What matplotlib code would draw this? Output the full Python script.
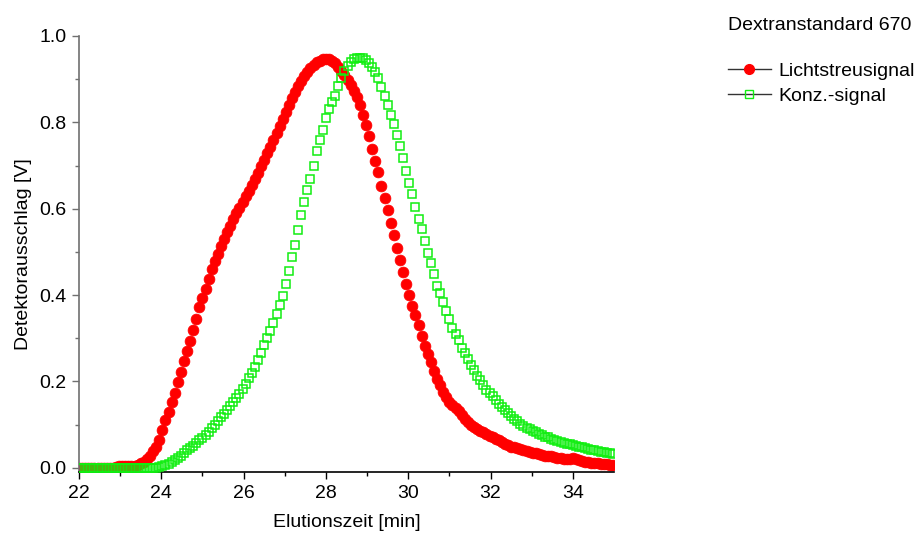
import numpy as np
import matplotlib
matplotlib.use("Agg")
import matplotlib.pyplot as plt
from matplotlib.lines import Line2D

plt.rcParams['font.family'] = ['Liberation Sans', 'DejaVu Sans']

# sampling grid of the chromatogram (min)
t_start = 22.0
t_step = 0.075
n_points = 174

licht = [
    0.000, 0.000, 0.000, 0.000, 0.000, 0.000, 0.000, 0.000, 0.000, 0.000,
    0.000, 0.000, 0.002, 0.004, 0.004, 0.003, 0.003, 0.004, 0.005, 0.007,
    0.010, 0.014, 0.020, 0.028, 0.038, 0.048, 0.063, 0.087, 0.110, 0.130,
    0.151, 0.172, 0.198, 0.222, 0.246, 0.270, 0.293, 0.318, 0.345, 0.372,
    0.392, 0.415, 0.437, 0.460, 0.478, 0.496, 0.514, 0.530, 0.545, 0.560,
    0.575, 0.589, 0.602, 0.616, 0.629, 0.642, 0.655, 0.668, 0.683, 0.698,
    0.713, 0.728, 0.744, 0.759, 0.775, 0.791, 0.808, 0.825, 0.841, 0.856,
    0.870, 0.884, 0.896, 0.907, 0.917, 0.926, 0.933, 0.939, 0.943, 0.946,
    0.947, 0.946, 0.943, 0.937, 0.929, 0.920, 0.909, 0.897, 0.886, 0.872,
    0.858, 0.840, 0.816, 0.794, 0.768, 0.738, 0.710, 0.684, 0.653, 0.624,
    0.596, 0.567, 0.538, 0.509, 0.482, 0.454, 0.426, 0.401, 0.375, 0.353,
    0.330, 0.305, 0.282, 0.263, 0.244, 0.224, 0.205, 0.191, 0.176, 0.163,
    0.153, 0.146, 0.139, 0.131, 0.121, 0.113, 0.106, 0.100, 0.095, 0.090,
    0.086, 0.082, 0.077, 0.073, 0.070, 0.067, 0.063, 0.060, 0.056, 0.052,
    0.049, 0.047, 0.045, 0.043, 0.041, 0.039, 0.037, 0.035, 0.033, 0.031,
    0.029, 0.028, 0.027, 0.026, 0.025, 0.023, 0.022, 0.020, 0.020, 0.021,
    0.022, 0.020, 0.017, 0.015, 0.014, 0.013, 0.012, 0.011, 0.010, 0.009,
    0.008, 0.008, 0.007, 0.006,
]

konz = [
    0.000, 0.000, 0.000, 0.000, 0.000, 0.000, 0.000, 0.000, 0.000, 0.000,
    0.000, 0.000, 0.000, 0.000, 0.000, 0.000, 0.000, 0.000, 0.000, 0.000,
    0.000, 0.000, 0.000, 0.000, 0.000, 0.000, 0.001, 0.003, 0.006, 0.009,
    0.013, 0.018, 0.023, 0.028, 0.034, 0.040, 0.046, 0.051, 0.057, 0.063,
    0.069, 0.076, 0.083, 0.091, 0.099, 0.108, 0.117, 0.125, 0.134, 0.143,
    0.153, 0.162, 0.171, 0.182, 0.195, 0.207, 0.219, 0.233, 0.249, 0.266,
    0.284, 0.300, 0.317, 0.335, 0.355, 0.376, 0.397, 0.425, 0.456, 0.487,
    0.516, 0.550, 0.586, 0.615, 0.643, 0.668, 0.699, 0.733, 0.760, 0.782,
    0.810, 0.830, 0.847, 0.862, 0.885, 0.903, 0.919, 0.931, 0.940, 0.946,
    0.949, 0.950, 0.948, 0.944, 0.937, 0.928, 0.916, 0.902, 0.882, 0.862,
    0.840, 0.818, 0.795, 0.771, 0.746, 0.718, 0.688, 0.660, 0.634, 0.605,
    0.576, 0.552, 0.525, 0.498, 0.474, 0.449, 0.421, 0.404, 0.383, 0.363,
    0.344, 0.324, 0.310, 0.296, 0.278, 0.265, 0.252, 0.239, 0.226, 0.213,
    0.202, 0.191, 0.181, 0.174, 0.166, 0.156, 0.147, 0.140, 0.133, 0.126,
    0.119, 0.112, 0.107, 0.102, 0.097, 0.093, 0.089, 0.085, 0.082, 0.079,
    0.075, 0.072, 0.070, 0.067, 0.065, 0.062, 0.060, 0.058, 0.056, 0.054,
    0.052, 0.050, 0.048, 0.047, 0.045, 0.043, 0.042, 0.040, 0.039, 0.037,
    0.036, 0.034, 0.033, 0.032,
]

x_ticks = [22, 24, 26, 28, 30, 32, 34]
y_ticks = [0.0, 0.2, 0.4, 0.6, 0.8, 1.0]
x_label = "Elutionszeit [min]"
y_label = "Detektorausschlag [V]"
title = "Dextranstandard 670"
series_names = ["Lichtstreusignal", "Konz.-signal"]

FS = 14
GREEN = '#11ee11'

t = t_start + t_step * np.arange(n_points)

fig = plt.figure(figsize=(9.18, 5.36), dpi=100)
ax = fig.add_axes([79 / 918, 64 / 536, 535 / 918, 436 / 536])

ax.plot(t, licht, linestyle='none', marker='o', markersize=7.8,
        markerfacecolor='#ff0000', markeredgecolor='#ff0000',
        markeredgewidth=0.5, zorder=2)
ax.plot(t, konz, linestyle='none', marker='s', markersize=6.4,
        markerfacecolor='none', markeredgecolor=GREEN, markeredgewidth=1.1,
        zorder=3)

ax.set_xlim(22, 35)
ax.set_ylim(-0.01, 1.0)
ax.set_xticks(x_ticks)
ax.set_yticks(y_ticks)
ax.set_xticks(np.arange(23, 35, 2), minor=True)
ax.set_yticks(np.arange(0.1, 1.0, 0.2), minor=True)
ax.set_yticklabels([f"{v:.1f}" for v in y_ticks])

for s in ['top', 'right']:
    ax.spines[s].set_visible(False)
ax.spines['left'].set_color('#707070')
ax.spines['bottom'].set_color('black')
ax.spines['left'].set_linewidth(1.2)
ax.spines['bottom'].set_linewidth(1.2)
ax.tick_params(axis='both', which='major', direction='out', length=5,
               width=1.0, labelsize=FS, pad=4)
ax.tick_params(axis='both', which='minor', direction='out', length=3, width=1.0)
ax.tick_params(axis='y', which='both', color='#707070')
ax.tick_params(axis='x', which='both', color='black')

ax.set_xlabel(x_label, fontsize=FS, labelpad=9)
ax.set_ylabel(y_label, fontsize=FS, labelpad=5)

fig.text(728 / 918, 1 - 25 / 536, title, fontsize=FS, ha='left', va='center')

handles = [
    Line2D([], [], color='#333333', linewidth=1.0, marker='o', markersize=7,
           markerfacecolor='#ff0000', markeredgecolor='#ff0000'),
    Line2D([], [], color='#333333', linewidth=1.0, marker='s', markersize=6,
           markerfacecolor='none', markeredgecolor=GREEN),
]
fig.legend(handles, series_names, loc='upper left',
           bbox_to_anchor=(724 / 918, 1 - 58 / 536), frameon=False,
           fontsize=FS, handlelength=2.2, handletextpad=0.4,
           labelspacing=0.4, numpoints=1, borderaxespad=0, borderpad=0.2)

fig.savefig("out.png", dpi=100)
